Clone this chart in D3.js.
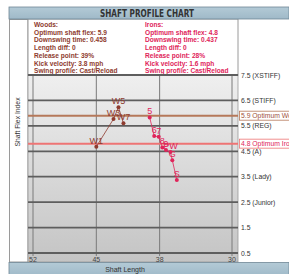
<!DOCTYPE html>
<html><head><meta charset="utf-8">
<script src="https://cdn.jsdelivr.net/npm/d3@7"></script>
<style>
html,body{margin:0;padding:0;background:#fff;}
svg{display:block;}
text{font-family:"Liberation Sans","Arial",sans-serif;}
</style></head>
<body>
<script>
// ---- data ----
const woodLabels = ["W1","W3","W5","W7"];
const woodLength = [45.0, 43.1, 42.55, 42.0];
const woodFlex   = [4.68, 5.77, 6.23, 5.6];

const ironLabels = ["5","6","7","8","9","PW","G","S"];
const ironLength = [39.1, 38.6, 38.1, 37.7, 37.3, 36.8, 36.6, 36.1];
const ironFlex   = [5.83, 5.1, 5.07, 4.65, 4.55, 4.47, 4.15, 3.37];

const xTicks = [52, 45, 38, 30];
const yTicks = [7.5, 6.5, 5.5, 4.5, 3.5, 2.5, 1.5, 0.5];
const yTickLabels = ["7.5 (XSTIFF)","6.5 (STIFF)","5.5 (REG)","4.5 (A)","3.5 (Lady)","2.5 (Junior)","1.5","0.5"];

const optimumValues = [5.9, 4.8];
const optimumLabels = ["5.9 Optimum Woods","4.8 Optimum Irons"];

const woodsInfo = ["Woods:","Optimum shaft flex: 5.9","Downswing time: 0.458","Length diff: 0","Release point: 39%","Kick velocity: 3.8 mph","Swing profile: Cast/Reload"];
const ironsInfo = ["Irons:","Optimum shaft flex: 4.8","Downswing time: 0.437","Length diff: 0","Release point: 28%","Kick velocity: 1.6 mph","Swing profile: Cast/Reload"];

// ---- layout ----
const W = 289, H = 274;
const woodColor = "#8e3b2e", ironColor = "#e0245a";
const optColors = ["#b5785a", "#ee7474"];
const optText = ["#a0523d", "#e0245a"];

const svg = d3.select("body").append("svg").attr("width", W).attr("height", H);
const defs = svg.append("defs");
const grad = defs.append("linearGradient").attr("id","bg").attr("x1",0).attr("y1",0).attr("x2",0).attr("y2",1);
grad.append("stop").attr("offset","0%").attr("stop-color","#efefef");
grad.append("stop").attr("offset","100%").attr("stop-color","#c4c4c4");
const bar = defs.append("linearGradient").attr("id","bar").attr("x1",0).attr("y1",0).attr("x2",0).attr("y2",1);
bar.append("stop").attr("offset","0%").attr("stop-color","#b3cad6");
bar.append("stop").attr("offset","100%").attr("stop-color","#9fb9c8");

const x = d3.scaleLinear().domain([52, 30]).range([33, 232]);
const y = d3.scaleLinear().domain([7.5, 0.5]).range([75, 253]);

const plotL = 28, plotR = 238, plotT = 75, plotB = 262;

// left white column border
svg.append("rect").attr("x",9.5).attr("y",19.5).attr("width",plotL-9.5).attr("height",plotB-19.5)
  .attr("fill","#fff").attr("stroke","#9a9a9a").attr("stroke-width",1);

// info panel
svg.append("rect").attr("x",plotL).attr("y",19).attr("width",plotR-plotL).attr("height",plotT-19)
  .attr("fill","#fff").attr("stroke","#9a9a9a").attr("stroke-width",1);

// title bar
svg.append("rect").attr("x",9).attr("y",7).attr("width",W-9).attr("height",12)
  .attr("fill","url(#bar)").attr("stroke","#6f8796").attr("stroke-width",0.8);
svg.append("text").attr("x",147).attr("y",16.5).attr("text-anchor","middle")
  .attr("font-size",10).attr("font-weight","bold").attr("fill","#333")
  .style("font-family","'DejaVu Sans Condensed','DejaVu Sans',sans-serif")
  .attr("textLength",94).attr("lengthAdjust","spacingAndGlyphs")
  .text("SHAFT PROFILE CHART");

// info text
const infoG = svg.append("g").attr("font-size",6.6).attr("font-weight","bold");
infoG.selectAll("text.w").data(woodsInfo).join("text").attr("class","w")
  .attr("x",34).attr("y",(d,i)=>27 + i*7.7).attr("fill",woodColor).text(d=>d);
infoG.selectAll("text.i").data(ironsInfo).join("text").attr("class","i")
  .attr("x",145).attr("y",(d,i)=>27 + i*7.7).attr("fill",ironColor).text(d=>d);

// plot background
svg.append("rect").attr("x",plotL).attr("y",plotT).attr("width",plotR-plotL).attr("height",plotB-plotT)
  .attr("fill","url(#bg)").attr("stroke","#9a9a9a").attr("stroke-width",0.8);

// vertical gridlines
svg.append("g").selectAll("line").data(xTicks).join("line")
  .attr("x1",d=>x(d)).attr("x2",d=>x(d)).attr("y1",plotT).attr("y2",256)
  .attr("stroke","#7a7a7a").attr("stroke-width",1);

// horizontal gridlines
svg.append("g").selectAll("line").data(yTicks).join("line")
  .attr("x1",plotL).attr("x2",plotR).attr("y1",d=>y(d)).attr("y2",d=>y(d))
  .attr("stroke","#5e5e5e").attr("stroke-width",1.8);

// x tick labels
svg.append("g").selectAll("text").data(xTicks).join("text")
  .attr("x",d=>x(d)).attr("y",262).attr("text-anchor","middle")
  .attr("font-size",7).attr("fill","#444").text(d=>d);

// y tick labels
svg.append("g").selectAll("text").data(yTicks).join("text")
  .attr("x",241).attr("y",d=>y(d)+2.5).attr("font-size",6.8).attr("fill","#333")
  .text((d,i)=>yTickLabels[i]);

// optimum lines + labels
optimumValues.forEach((v,i)=>{
  svg.append("line").attr("x1",plotL).attr("x2",plotR).attr("y1",y(v)).attr("y2",y(v))
    .attr("stroke",optColors[i]).attr("stroke-width",2);
  svg.append("rect").attr("x",239.5).attr("y",y(v)-4.5).attr("width",60).attr("height",9)
    .attr("fill","#fff").attr("stroke",optColors[i]).attr("stroke-width",0.8);
  svg.append("text").attr("x",241).attr("y",y(v)+2.5).attr("font-size",6.8)
    .attr("fill",optText[i]).text(optimumLabels[i]);
});

// y-axis title
svg.append("text").attr("transform","translate(19.5,122) rotate(-90)")
  .attr("text-anchor","middle").attr("font-size",6.8).attr("fill","#333").text("Shaft Flex Index");

// bottom bar
svg.append("rect").attr("x",9).attr("y",262.5).attr("width",W-9).attr("height",14)
  .attr("fill","url(#bar)").attr("stroke","#6f8796").attr("stroke-width",0.8);
svg.append("text").attr("x",125).attr("y",271.5).attr("text-anchor","middle")
  .attr("font-size",7).attr("fill","#333").text("Shaft Length");

// series
function drawSeries(lengths, flex, labels, color){
  const pts = lengths.map((l,i)=>({l, f:flex[i], lab:labels[i]}));
  const line = d3.line().x(d=>x(d.l)).y(d=>y(d.f));
  svg.append("path").datum(pts).attr("d",line).attr("fill","none").attr("stroke",color).attr("stroke-width",0.8);
  svg.append("g").selectAll("circle").data(pts).join("circle")
    .attr("cx",d=>x(d.l)).attr("cy",d=>y(d.f)).attr("r",2).attr("fill",color);
  svg.append("g").selectAll("text").data(pts).join("text")
    .attr("x",d=>x(d.l)).attr("y",d=>y(d.f)-3).attr("text-anchor","middle")
    .attr("font-size",9).attr("fill",color).text(d=>d.lab);
}
drawSeries(woodLength, woodFlex, woodLabels, woodColor);
drawSeries(ironLength, ironFlex, ironLabels, ironColor);
</script>
</body></html>
